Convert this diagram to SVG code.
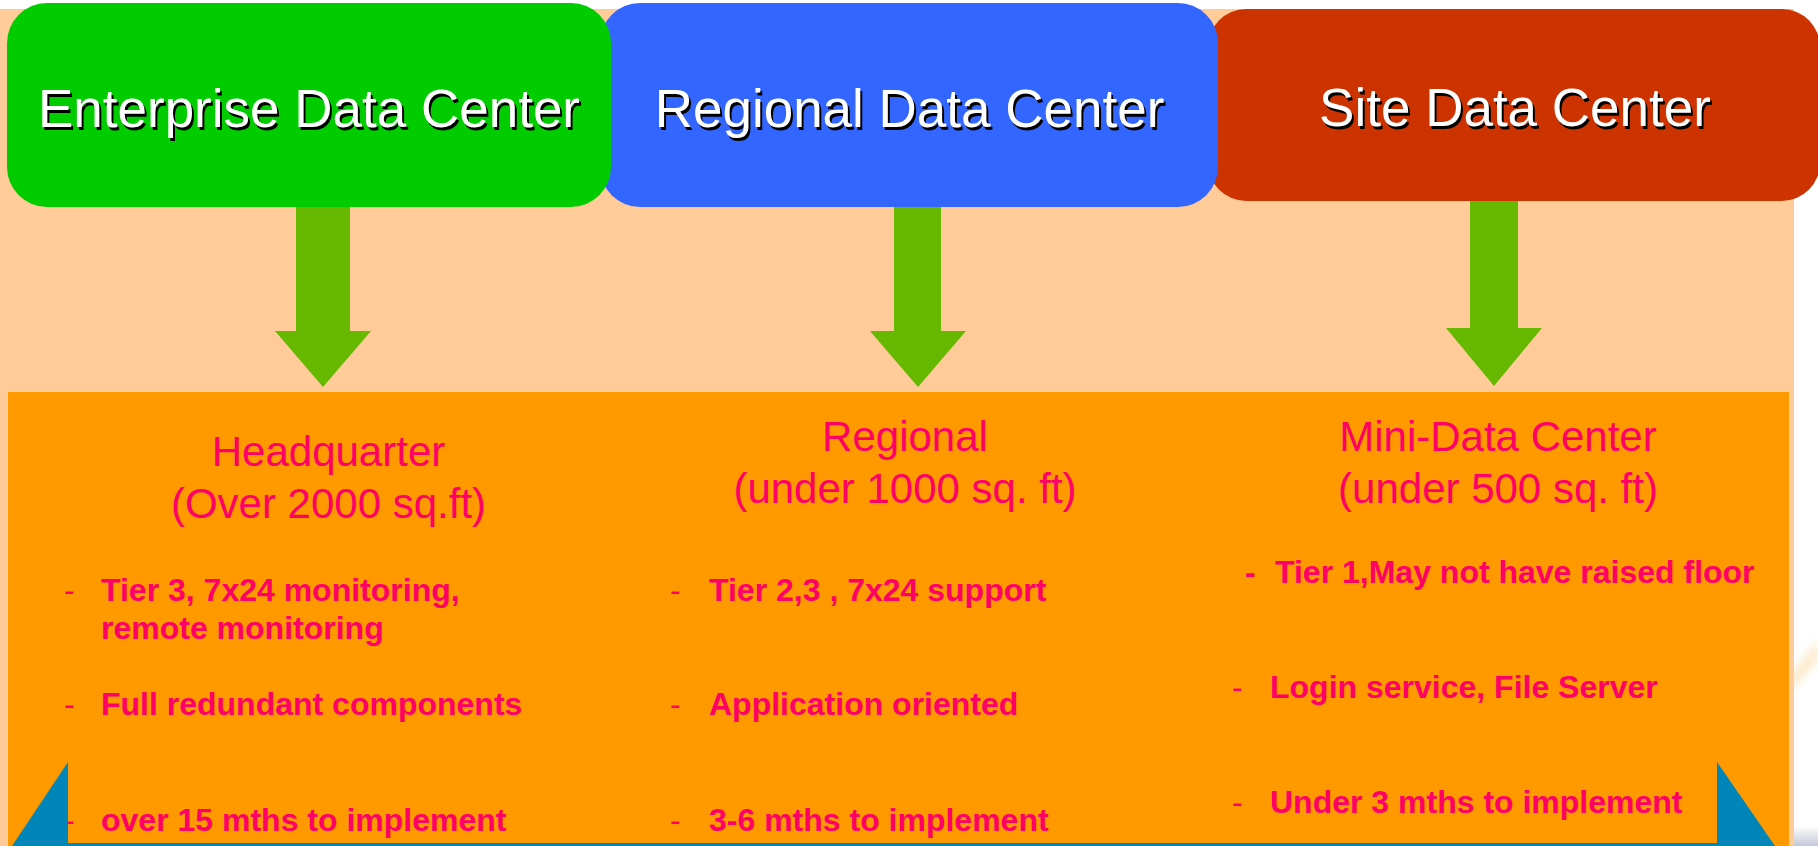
<svg xmlns="http://www.w3.org/2000/svg" width="1818" height="846" viewBox="0 0 1818 846">
  <style>
    .hdr { font-family: "Liberation Sans", Arial, sans-serif; font-size: 53px; text-anchor: middle; }
    .hdr-fg { fill: #FFFFFF; }
    .hdr-sh { fill: #000000; }
    .title { font-family: "Liberation Sans", Arial, sans-serif; font-size: 42px; fill: #FF0066; text-anchor: middle; }
    .item { font-family: "Liberation Sans", Arial, sans-serif; font-size: 32px; font-weight: bold; fill: #FF0066; }
    .dash { font-family: "Liberation Sans", Arial, sans-serif; font-size: 32px; fill: #FF0066; }
    .arrow { fill: #66B800; }
    .tri { fill: #0085B9; }
  </style>
  <defs>
    <linearGradient id="grayBar" x1="0" y1="0" x2="0" y2="1">
      <stop offset="0" stop-color="#FFFFFF"/>
      <stop offset="1" stop-color="#C4C9D6"/>
    </linearGradient>
    <filter id="soft" x="-20%" y="-50%" width="140%" height="200%">
      <feGaussianBlur stdDeviation="4"/>
    </filter>
  </defs>

  <!-- slide background -->
  <rect x="0" y="0" width="1818" height="846" fill="#FFFFFF"/>
  <polygon points="1790,675 1818,640 1818,660 1790,692" fill="#F9DDA8" opacity="0.6" filter="url(#soft)"/>
  <rect x="1794" y="826" width="24" height="20" fill="url(#grayBar)"/>
  <rect x="0" y="9" width="1794" height="837" fill="#FFCC99"/>

  <!-- connectors -->
  <g id="connectors">
    <polygon class="arrow" points="296,200 350,200 350,331 371,331 323,387 275,331 296,331"/>
    <polygon class="arrow" points="894,200 941,200 941,331 966,331 918,387 870,331 894,331"/>
    <polygon class="arrow" points="1470,195 1518,195 1518,328 1542,328 1494,386 1446,328 1470,328"/>
  </g>

  <!-- top boxes -->
  <g id="box-site">
    <rect x="1208" y="9" width="612" height="192" rx="38" ry="38" fill="#CC3300"/>
    <text class="hdr hdr-sh" x="1517" y="128.5">Site Data Center</text>
    <text class="hdr hdr-fg" x="1515" y="126">Site Data Center</text>
  </g>
  <g id="box-regional">
    <rect x="600" y="3" width="618" height="204" rx="40" ry="40" fill="#3366FF"/>
    <text class="hdr hdr-sh" x="911.5" y="129.5">Regional Data Center</text>
    <text class="hdr hdr-fg" x="909.5" y="127">Regional Data Center</text>
  </g>
  <g id="box-enterprise">
    <rect x="7" y="3" width="604" height="204" rx="40" ry="40" fill="#00CC00"/>
    <text class="hdr hdr-sh" x="311" y="129.5">Enterprise Data Center</text>
    <text class="hdr hdr-fg" x="309" y="127">Enterprise Data Center</text>
  </g>

  <!-- lower panels -->
  <rect x="8" y="392" width="1781" height="454" fill="#FF9900"/>

  <g id="panel-headquarter">
    <text class="title" x="328.5" y="466">Headquarter</text>
    <text class="title" x="328.5" y="518">(Over 2000 sq.ft)</text>
    <text class="dash" x="64" y="601">-</text>
    <text class="item" x="101" y="601">Tier 3, 7x24 monitoring,</text>
    <text class="item" x="101" y="639">remote monitoring</text>
    <text class="dash" x="64" y="715">-</text>
    <text class="item" x="101" y="715">Full redundant components</text>
    <text class="dash" x="64" y="831">-</text>
    <text class="item" x="101" y="831">over 15 mths to implement</text>
  </g>

  <g id="panel-regional">
    <text class="title" x="905" y="451">Regional</text>
    <text class="title" x="905" y="503">(under 1000 sq. ft)</text>
    <text class="dash" x="670" y="601">-</text>
    <text class="item" x="709" y="601">Tier 2,3 , 7x24 support</text>
    <text class="dash" x="670" y="715">-</text>
    <text class="item" x="709" y="715">Application oriented</text>
    <text class="dash" x="670" y="831">-</text>
    <text class="item" x="709" y="831">3-6 mths to implement</text>
  </g>

  <g id="panel-mini">
    <text class="title" x="1498" y="451">Mini-Data Center</text>
    <text class="title" x="1498" y="503">(under 500 sq. ft)</text>
    <text class="item" x="1245" y="583">-</text>
    <text class="item" x="1275" y="583">Tier 1,May not have raised floor</text>
    <text class="dash" x="1232" y="698">-</text>
    <text class="item" x="1270" y="698">Login service, File Server</text>
    <text class="dash" x="1232" y="813">-</text>
    <text class="item" x="1270" y="813">Under 3 mths to implement</text>
  </g>

  <!-- blue base -->
  <polygon class="tri" points="68,762 68,846 12,846"/>
  <polygon class="tri" points="1717,762 1717,846 1775,846"/>
  <rect class="tri" x="68" y="843" width="1649" height="3"/>
</svg>
